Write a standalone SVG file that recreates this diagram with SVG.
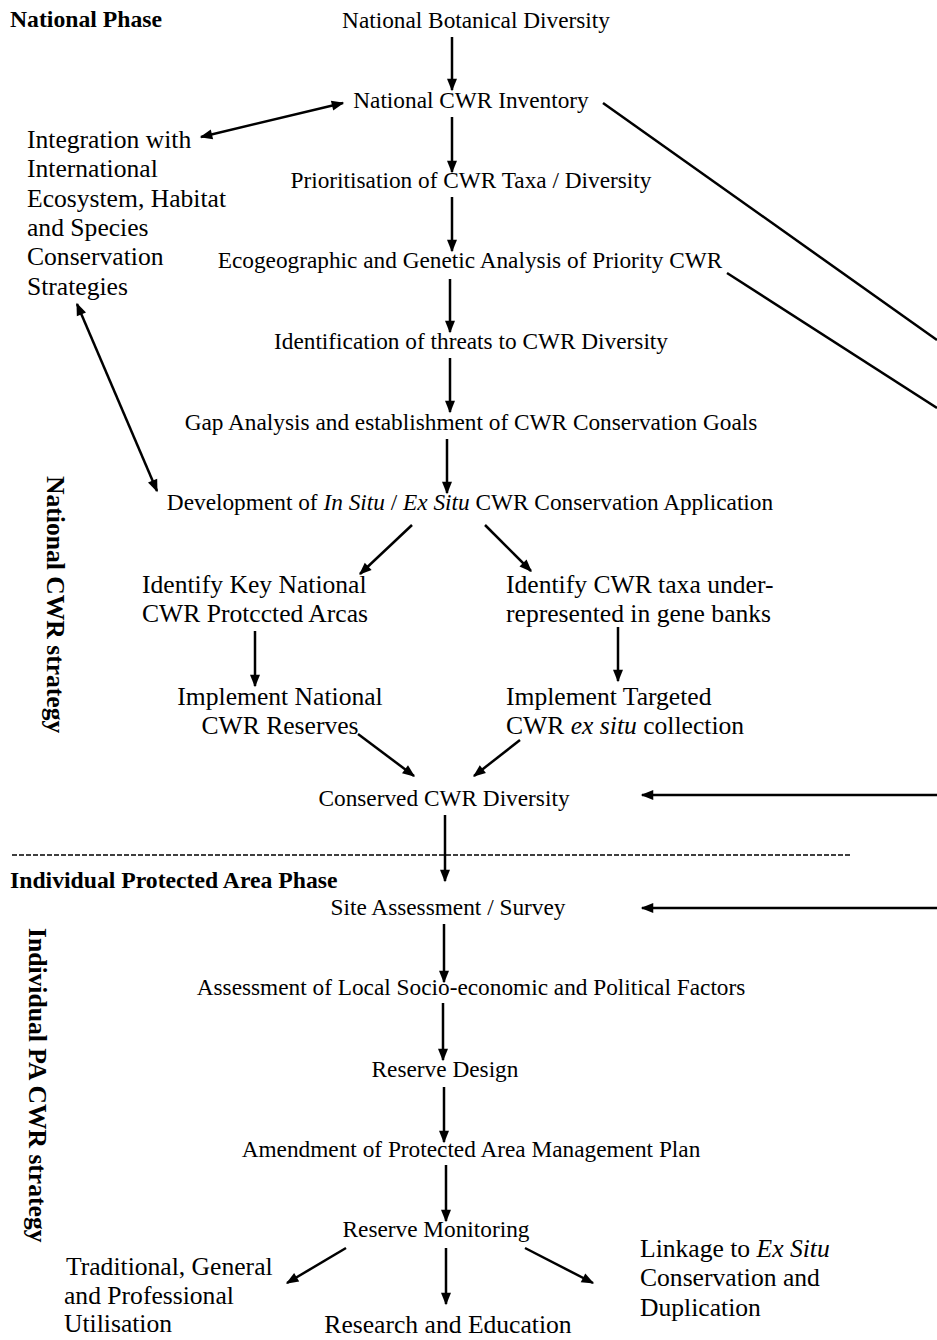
<svg xmlns="http://www.w3.org/2000/svg" width="937" height="1340" viewBox="0 0 937 1340">
<style>
text{font-family:"Liberation Serif","Times New Roman",serif;fill:#000}
.m{font-size:23.3px;text-anchor:middle}
.s{font-size:25.6px}
.b{font-size:23.7px;font-weight:bold}
.v{font-size:25.6px;font-weight:bold}
.c line,.c path{stroke:#000;stroke-width:2.5;fill:none}
</style>
<defs>
<marker id="ah" viewBox="0 0 10 10" refX="9" refY="5" markerWidth="5.5" markerHeight="5" orient="auto-start-reverse" markerUnits="strokeWidth"><path d="M0,1 L10,5 L0,9 Z" fill="#000"/></marker>
</defs>
<rect width="937" height="1340" fill="#fff"/>

<g id="labels">
<text class="b" x="10" y="27">National Phase</text>
<text class="b" x="10" y="888">Individual Protected Area Phase</text>
<text class="v" transform="translate(47,476) rotate(90)">National CWR strategy</text>
<text class="v" transform="translate(29,928) rotate(90)">Individual PA CWR strategy</text>
</g>

<g class="c" id="connectors">
<line x1="452" y1="37" x2="452" y2="90" marker-end="url(#ah)"/>
<line x1="343" y1="103" x2="201" y2="137" marker-start="url(#ah)" marker-end="url(#ah)"/>
<line x1="452" y1="117" x2="452" y2="172" marker-end="url(#ah)"/>
<line x1="452" y1="197" x2="452" y2="251" marker-end="url(#ah)"/>
<line x1="603" y1="103" x2="937" y2="340"/>
<line x1="727" y1="273" x2="937" y2="408"/>
<line x1="450" y1="279" x2="450" y2="332" marker-end="url(#ah)"/>
<line x1="450" y1="358" x2="450" y2="412" marker-end="url(#ah)"/>
<line x1="447" y1="439" x2="447" y2="493" marker-end="url(#ah)"/>
<line x1="77" y1="304" x2="157" y2="491" marker-start="url(#ah)" marker-end="url(#ah)"/>
<line x1="412" y1="525" x2="360" y2="574" marker-end="url(#ah)"/>
<line x1="485" y1="525" x2="531" y2="571" marker-end="url(#ah)"/>
<line x1="255" y1="631" x2="255" y2="686" marker-end="url(#ah)"/>
<line x1="618" y1="627" x2="618" y2="681" marker-end="url(#ah)"/>
<line x1="358" y1="734" x2="414" y2="776" marker-end="url(#ah)"/>
<line x1="520" y1="740" x2="474" y2="776" marker-end="url(#ah)"/>
<line x1="937" y1="795" x2="642" y2="795" marker-end="url(#ah)"/>
<line x1="445" y1="815" x2="445" y2="881" marker-end="url(#ah)"/>
<line x1="12" y1="855" x2="852" y2="855" style="stroke-width:1.3;stroke-dasharray:5 2"/>
<line x1="937" y1="908" x2="642" y2="908" marker-end="url(#ah)"/>
<line x1="444" y1="924" x2="444" y2="982" marker-end="url(#ah)"/>
<line x1="443" y1="1003" x2="443" y2="1060" marker-end="url(#ah)"/>
<line x1="444" y1="1087" x2="444" y2="1142" marker-end="url(#ah)"/>
<line x1="446" y1="1165" x2="446" y2="1221" marker-end="url(#ah)"/>
<line x1="346" y1="1248" x2="287" y2="1283" marker-end="url(#ah)"/>
<line x1="446" y1="1248" x2="446" y2="1304" marker-end="url(#ah)"/>
<line x1="525" y1="1248" x2="593" y2="1283" marker-end="url(#ah)"/>
</g>

<g id="n1"><text class="m" x="476" y="28">National Botanical Diversity</text></g>
<g id="n2"><text class="m" x="471" y="108">National CWR Inventory</text></g>
<g id="n3"><text class="s" x="27" y="148">Integration with</text><text class="s" x="27" y="177">International</text><text class="s" x="27" y="207">Ecosystem, Habitat</text><text class="s" x="27" y="236">and Species</text><text class="s" x="27" y="265">Conservation</text><text class="s" x="27" y="295">Strategies</text></g>
<g id="n4"><text class="m" x="471" y="188">Prioritisation of CWR Taxa / Diversity</text></g>
<g id="n5"><text class="m" x="470" y="268">Ecogeographic and Genetic Analysis of Priority CWR</text></g>
<g id="n6"><text class="m" x="471" y="349">Identification of threats to CWR Diversity</text></g>
<g id="n7"><text class="m" x="471" y="430">Gap Analysis and establishment of CWR Conservation Goals</text></g>
<g id="n8"><text class="m" x="470" y="510">Development of <tspan font-style="italic">In Situ</tspan> / <tspan font-style="italic">Ex Situ</tspan> CWR Conservation Application</text></g>
<g id="n9"><text class="s" x="142" y="593">Identify Key National</text><text class="s" x="142" y="622">CWR Protccted Arcas</text></g>
<g id="n10"><text class="s" x="506" y="593">Identify CWR taxa under-</text><text class="s" x="506" y="622">represented in gene banks</text></g>
<g id="n11"><text class="s" x="280" y="705" text-anchor="middle">Implement National</text><text class="s" x="280" y="734" text-anchor="middle">CWR Reserves</text></g>
<g id="n12"><text class="s" x="506" y="705">Implement Targeted</text><text class="s" x="506" y="734">CWR <tspan font-style="italic">ex situ</tspan> collection</text></g>
<g id="n13"><text class="m" x="444" y="806">Conserved CWR Diversity</text></g>
<g id="n14"><text class="m" x="448" y="915">Site Assessment / Survey</text></g>
<g id="n15"><text class="m" x="471" y="995">Assessment of Local Socio-economic and Political Factors</text></g>
<g id="n16"><text class="m" x="445" y="1077">Reserve Design</text></g>
<g id="n17"><text class="m" x="471" y="1157">Amendment of Protected Area Management Plan</text></g>
<g id="n18"><text class="m" x="436" y="1237">Reserve Monitoring</text></g>
<g id="n19"><text class="s" x="66" y="1275">Traditional, General</text><text class="s" x="64" y="1304">and Professional</text><text class="s" x="64" y="1332">Utilisation</text></g>
<g id="n20"><text class="s" x="448" y="1333" text-anchor="middle">Research and Education</text></g>
<g id="n21"><text class="s" x="640" y="1257">Linkage to <tspan font-style="italic">Ex Situ</tspan></text><text class="s" x="640" y="1286">Conservation and</text><text class="s" x="640" y="1316">Duplication</text></g>
</svg>
